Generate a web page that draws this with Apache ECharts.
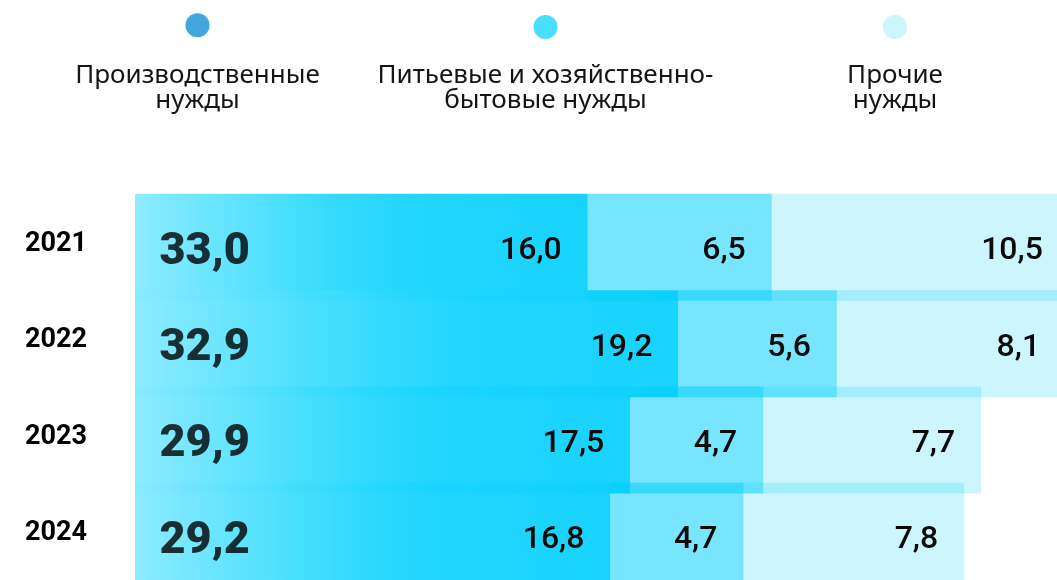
<!DOCTYPE html>
<html>
<head>
<meta charset="utf-8">
<title>Водопотребление по видам нужд</title>
<script src="https://cdn.jsdelivr.net/npm/echarts@6/dist/echarts.min.js"></script>
<style>
  html, body { margin: 0; padding: 0; background: #ffffff; }
  #chart { width: 1057px; height: 580px; }
</style>
</head>
<body>
<div id="chart"></div>
<script>
// Years shown on the category axis
const years = ['2021', '2022', '2023', '2024'];
// Water use by purpose, per year
const industrial = [16.0, 19.2, 17.5, 16.8];
const household = [6.5, 5.6, 4.7, 4.7];
const other = [10.5, 8.1, 7.7, 7.8];
// Yearly totals printed at the start of each row
const totals = [33.0, 32.9, 29.9, 29.2];
// Series names and the two-line captions under the legend dots
const seriesNames = ['Производственные нужды', 'Питьевые и хозяйственно-бытовые нужды', 'Прочие нужды'];
const legendCaptions = ['Производственные\nнужды', 'Питьевые и хозяйственно-\nбытовые нужды', 'Прочие\nнужды'];
const legendColors = ['#41A6DC', '#4ADEFD', '#CCF5FD'];

const fmt = v => v.toFixed(1).replace('.', ',');

// Segment fills: a left-to-right gradient for the first layer, translucent cyan for the rest
const layerFills = [
  {
    type: 'linear', x: 0, y: 0, x2: 1, y2: 0,
    colorStops: [
      { offset: 0, color: '#8AEBFF' },
      { offset: 0.2, color: '#5EE3FE' },
      { offset: 0.45, color: '#2DD9FD' },
      { offset: 0.6, color: '#1CD5FD' },
      { offset: 1, color: '#10D2FD' }
    ]
  },
  'rgba(5,208,252,0.547)',
  'rgba(5,208,252,0.204)'
];
const layerOpacity = [0.97, 1, 1];

// Bars are a little thicker than the row pitch, so neighbouring rows overlap slightly
const BAR_THICKNESS = 1.111;

const layers = [industrial, household, other];

// Stacked segments: [start, end, rowIndex, value]
function segmentData(k) {
  return years.map((y, i) => {
    let start = 0;
    for (let j = 0; j < k; j++) start += layers[j][i];
    return [start, start + layers[k][i], i, layers[k][i]];
  });
}

function makeRenderer(k) {
  return function (params, api) {
    const p0 = api.coord([api.value(0), api.value(2)]);
    const p1 = api.coord([api.value(1), api.value(2)]);
    const h = api.size([0, 1])[1] * BAR_THICKNESS;
    return {
      type: 'rect',
      shape: { x: p0[0], y: p0[1] - h / 2, width: p1[0] - p0[0], height: h },
      style: { fill: layerFills[k], opacity: layerOpacity[k] },
      textContent: {
        type: 'text',
        style: {
          text: fmt(api.value(3)),
          fontFamily: 'Roboto',
          fontSize: 32,
          fontWeight: 500,
          fill: '#0a0a0a'
        }
      },
      textConfig: { position: 'insideRight', distance: 26, offset: [0, 4] }
    };
  };
}

const chart = echarts.init(document.getElementById('chart'), null, { renderer: 'canvas' });

const dotCenters = [197.5, 545.5, 895];
const dotTops = [13.3, 15, 15];

const legends = seriesNames.map((name, i) => ({
  left: dotCenters[i] - 12 - 5,
  top: dotTops[i] - 5,
  icon: 'circle',
  itemWidth: 24,
  itemHeight: 24,
  selectedMode: false,
  formatter: () => '',
  textStyle: { fontSize: 1 },
  data: [{ name: name, itemStyle: { color: legendColors[i], opacity: 1 } }]
}));

const captions = legendCaptions.map((text, i) => ({
  type: 'text',
  x: dotCenters[i],
  y: 88,
  style: {
    text: text,
    align: 'center',
    verticalAlign: 'middle',
    fontFamily: 'Noto Sans',
    fontSize: 26,
    lineHeight: 25,
    fill: '#151515'
  }
}));

const layerSeries = layers.map((arr, k) => ({
  name: seriesNames[k],
  type: 'custom',
  coordinateSystem: 'cartesian2d',
  encode: { x: [0, 1], y: 2 },
  itemStyle: { color: legendColors[k] },
  data: segmentData(k),
  renderItem: makeRenderer(k)
}));

chart.setOption({
  animation: false,
  backgroundColor: '#ffffff',
  legend: legends,
  graphic: captions,
  grid: {
    left: 135, top: 199.2, width: 1132, height: 385.3,
    containLabel: false,
    outerBoundsMode: 'none'
  },
  xAxis: { type: 'value', min: 0, max: 40, show: false },
  yAxis: {
    type: 'category',
    inverse: true,
    data: years,
    axisLine: { show: false },
    axisTick: { show: false },
    splitLine: { show: false },
    axisLabel: {
      align: 'left',
      verticalAlign: 'bottom',
      lineHeight: 6,
      margin: 110,
      fontFamily: 'Roboto',
      fontSize: 27,
      fontWeight: 700,
      color: '#000000'
    }
  },
  series: layerSeries.concat([
    {
      name: 'Итого',
      type: 'scatter',
      z: 5,
      symbolSize: 1,
      itemStyle: { color: 'rgba(0,0,0,0)' },
      silent: true,
      data: totals.map((t, i) => [0, years[i]]),
      label: {
        show: true,
        position: 'right',
        distance: 24,
        offset: [0, 5],
        fontFamily: 'Roboto',
        fontSize: 45,
        fontWeight: 900,
        color: '#000000',
        formatter: p => fmt(totals[p.dataIndex])
      }
    }
  ])
});
</script>
</body>
</html>
